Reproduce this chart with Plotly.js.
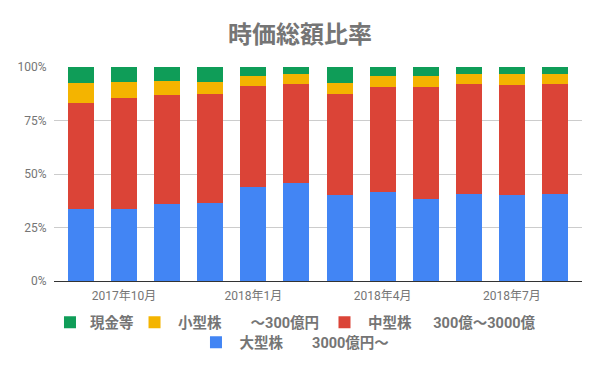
<!DOCTYPE html>
<html>
<head>
<meta charset="utf-8">
<script src="https://cdn.plot.ly/plotly-3.0.1.min.js"></script>
<style>html,body{margin:0;padding:0;background:#fff;}#chart{width:600px;height:371px;}</style>
</head>
<body>
<div id="chart"></div>
<script>
// Monthly categories
const months = ["2017年9月","2017年10月","2017年11月","2017年12月","2018年1月","2018年2月",
                "2018年3月","2018年4月","2018年5月","2018年6月","2018年7月","2018年8月"];
// Percent shares
const largeCap = [33.8, 33.8, 36.0, 36.6, 44.1, 46.0, 40.4, 41.6, 38.5, 40.7, 40.4, 40.7];
const midCap   = [49.5, 51.8, 51.0, 50.9, 47.1, 46.2, 47.1, 49.2, 52.3, 51.5, 51.3, 51.5];
const smallCap = [ 9.4,  7.5,  6.6,  5.6,  4.7,  4.7,  5.2,  5.1,  5.1,  4.7,  5.2,  4.7];
const cash     = [ 7.3,  6.9,  6.4,  6.9,  4.1,  3.1,  7.3,  4.1,  4.1,  3.1,  3.1,  3.1];

const seriesNames = ["現金等", "\u00a0小型株\u3000\u3000～300億円", "\u00a0中型株\u3000\u00a0\u00a0300億～3000億", "\u00a0大型株\u3000\u30003000億円～"];
const tickVals = ["2017年10月","2018年1月","2018年4月","2018年7月"];
const yTicks = [0, 25, 50, 75, 100];

const FONT = "Roboto, 'Noto Sans CJK JP', sans-serif";

const traces = [
  {name: seriesNames[3], y: largeCap, color: "#4285F4", legend: "legend2"},
  {name: seriesNames[2], y: midCap,   color: "#DB4437", legend: "legend4"},
  {name: seriesNames[1], y: smallCap, color: "#F4B400", legend: "legend3"},
  {name: seriesNames[0], y: cash,     color: "#0F9D58", legend: "legend"}
].map(s => ({
  type: "bar", x: months, y: s.y, name: s.name, width: 0.603,
  marker: {color: s.color, line: {width: 0}}, legend: s.legend,
  hoverinfo: "x+y+name"
}));

function leg(x, y) {
  return {
    orientation: "h", xanchor: "left", yanchor: "middle", x: x, y: y,
    font: {family: FONT, size: 14.5, color: "#757575", weight: 700},
    bgcolor: "rgba(0,0,0,0)", borderwidth: 0, itemclick: false
  };
}

const layout = {
  width: 600, height: 371,
  margin: {l: 54, r: 18, t: 67, b: 90},
  paper_bgcolor: "#fff", plot_bgcolor: "#fff",
  barmode: "stack", showlegend: true,
  title: {text: "時価総額比率", x: 0.5, xanchor: "center", xref: "container", y: 0.906, yref: "container", yanchor: "middle",
          font: {family: FONT, size: 24, color: "#757575", weight: 700}},
  xaxis: {type: "category", categoryorder: "array", categoryarray: months, range: [-0.627, 11.627],
          tickvals: tickVals, ticktext: tickVals, showgrid: false, zeroline: false,
          showline: true, linecolor: "#333", linewidth: 1, ticks: "outside", ticklen: 4, tickcolor: "rgba(0,0,0,0)",
          tickfont: {family: FONT, size: 12, color: "#757575"}},
  yaxis: {range: [0, 100], tickvals: yTicks, ticktext: yTicks.map(v => v + "%"),
          showgrid: true, gridcolor: "#cccccc", gridwidth: 1, zeroline: false,
          ticks: "outside", ticklen: 4, tickcolor: "rgba(0,0,0,0)",
          tickfont: {family: FONT, size: 12, color: "#757575"}},
  legend:  leg(-0.0076, -0.193),
  legend3: leg(0.1525, -0.193),
  legend4: leg(0.5123, -0.193),
  legend2: leg(0.2689, -0.287)
};

Plotly.newPlot("chart", traces, layout, {displayModeBar: false, staticPlot: true});
</script>
</body>
</html>
